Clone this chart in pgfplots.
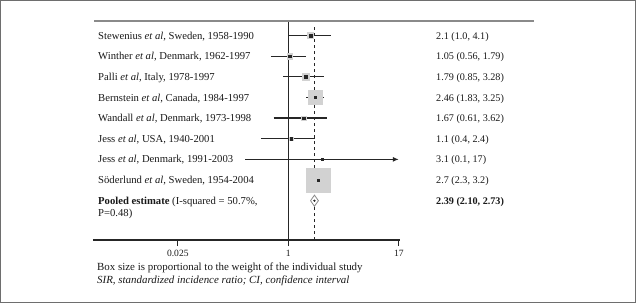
\documentclass[border=0pt]{standalone}
\usepackage{pgfplots}
\pgfplotsset{compat=1.18}
\usepackage{fontspec}
\setmainfont{Liberation Serif}
\usetikzlibrary{arrows.meta}
\definecolor{boxgray}{HTML}{D2D2D2}
\definecolor{linecol}{HTML}{262626}
\definecolor{framecol}{HTML}{6E6E6E}
\definecolor{rulecol}{HTML}{8A8A8A}
\newcommand{\fs}{\fontsize{10.7}{12.3}\selectfont}
\newcommand{\fr}{\fontsize{10.2}{12.3}\selectfont}
\newcommand{\fb}{\fontsize{10.95}{12.3}\selectfont}
\newcommand{\ft}{\fontsize{9.6}{12}\selectfont}

\begin{document}
\begin{tikzpicture}
\begin{axis}[
  width=307bp, height=219bp, scale only axis,
  xmode=log, xmin=0.001473, xmax=41.6,
  ymin=-0.903, ymax=9.70,
  axis x line*=bottom, axis y line=none,
  axis line style={linecol, line width=1.2bp},
  xtick={0.025,1,40}, xticklabels={0.025,1,17},
  minor xtick={},
  ytick=\empty,
  tick align=outside, major tick length=6bp,
  tick style={linecol, line width=1.2bp},
  xticklabel style={font=\ft, text=black!90, inner sep=1.5bp, yshift=-2bp},
  /pgf/number format/assume math mode=true,
  clip=false,
]
% null line and pooled-estimate line
\addplot[linecol, line width=1.2bp] coordinates {(1,-0.903) (1,9.70)};
\addplot[linecol, line width=1.4bp, dash pattern=on 3bp off 3bp] coordinates {(2.39,-0.903) (2.39,9.5)};
% weight boxes (half side in bp)
\addplot[boxgray, only marks, mark=square*, mark size=3bp] coordinates {(2.1,9)};
\addplot[boxgray, only marks, mark=square*, mark size=2.8bp] coordinates {(1.05,8)};
\addplot[boxgray, only marks, mark=square*, mark size=3.2bp] coordinates {(1.79,7)};
\addplot[boxgray, only marks, mark=square*, mark size=7bp] coordinates {(2.46,6)};
\addplot[boxgray, only marks, mark=square*, mark size=2.2bp] coordinates {(1.67,5)};
\addplot[boxgray, only marks, mark=square*, mark size=1.6bp] coordinates {(1.1,4)};
\addplot[boxgray, only marks, mark=square*, mark size=12bp] coordinates {(2.7,2)};
% confidence intervals
\addplot[linecol, line width=1.2bp, mark=none] coordinates {(1.0,9) (4.1,9)};
\addplot[linecol, line width=1.2bp, mark=none] coordinates {(0.56,8) (1.79,8)};
\addplot[linecol, line width=1.2bp, mark=none] coordinates {(0.85,7) (3.28,7)};
\addplot[linecol, line width=1.2bp, mark=none] coordinates {(1.83,6) (3.25,6)};
\addplot[linecol, line width=1.2bp, mark=none] coordinates {(0.61,5) (3.62,5)};
\addplot[linecol, line width=1.2bp, mark=none] coordinates {(0.4,4) (2.4,4)};
\addplot[linecol, line width=1.2bp, mark=none, -{Latex[length=6bp,width=5bp]}] coordinates {(0.236,3) (40,3)};
\addplot[linecol, line width=1.2bp, mark=none] coordinates {(2.3,2) (3.2,2)};
% point estimates
\addplot[linecol, only marks, mark=square*, mark size=1.25bp] coordinates {
(2.1,9) (1.05,8) (1.79,7) (2.46,6) (1.67,5) (1.1,4) (3.1,3) (2.7,2)
};
% pooled diamond
\addplot[rulecol, line width=0.8bp, fill=white, mark=none] coordinates {(2.10,1) (2.39,1.27) (2.73,1) (2.39,0.73) (2.10,1)};
\addplot[linecol, only marks, mark=*, mark size=0.9bp] coordinates {(2.39,1)};
\end{axis}
\path (current axis.north west) ++(-93bp,21bp) coordinate (P0);
\begin{scope}[shift={(P0)}, x=1bp, y=-1bp, every node/.style={font=\fs, text=black!90, inner sep=0pt}]
\draw[framecol, line width=1.5bp] (0.75,0.75) rectangle (635.25,302.25);
\draw[rulecol, line width=1.4bp] (94,21) -- (534,21);
\node[anchor=base west] at (98,39) {Stewenius \textit{et al}, Sweden, 1958-1990};
\node[anchor=base west] at (98,59.7) {Winther \textit{et al}, Denmark, 1962-1997};
\node[anchor=base west] at (98,80.3) {Palli \textit{et al}, Italy, 1978-1997};
\node[anchor=base west] at (98,101) {Bernstein \textit{et al}, Canada, 1984-1997};
\node[anchor=base west] at (98,121.6) {Wandall \textit{et al}, Denmark, 1973-1998};
\node[anchor=base west] at (98,142.3) {Jess \textit{et al}, USA, 1940-2001};
\node[anchor=base west] at (98,162.9) {Jess \textit{et al}, Denmark, 1991-2003};
\node[anchor=base west] at (98,183.6) {Söderlund \textit{et al}, Sweden, 1954-2004};
\node[anchor=base west] at (98,204.2) {\textbf{Pooled estimate} (I-squared = 50.7\%,};
\node[anchor=base west] at (98,216.5) {P=0.48)};
\begin{scope}[every node/.style={font=\fr, text=black!90, inner sep=0pt, anchor=base west}]
\node at (436,39) {2.1 (1.0, 4.1)};
\node at (436,59.7) {1.05 (0.56, 1.79)};
\node at (436,80.3) {1.79 (0.85, 3.28)};
\node at (436,101) {2.46 (1.83, 3.25)};
\node at (436,121.6) {1.67 (0.61, 3.62)};
\node at (436,142.3) {1.1 (0.4, 2.4)};
\node at (436,162.9) {3.1 (0.1, 17)};
\node at (436,183.6) {2.7 (2.3, 3.2)};
\node at (436,204.2) {\textbf{2.39 (2.10, 2.73)}};
\end{scope}
\node[anchor=base west, font=\fb] at (97,270.5) {Box size is proportional to the weight of the individual study};
\node[anchor=base west, font=\fb] at (97,283.5) {\textit{SIR, standardized incidence ratio; CI, confidence interval}};
\end{scope}
\end{tikzpicture}
\end{document}
